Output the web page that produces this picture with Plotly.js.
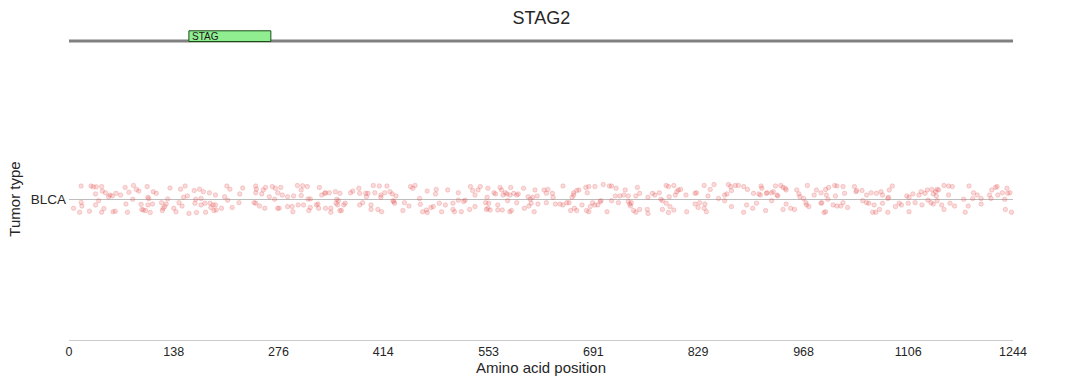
<!DOCTYPE html>
<html>
<head>
<meta charset="utf-8">
<script src="https://cdn.plot.ly/plotly-3.0.1.min.js"></script>
<style>html,body{margin:0;padding:0;background:#fff;}#chart{width:1086px;height:385px;}</style>
</head>
<body>
<div id="chart"></div>
<script>
// Gene and domain
const geneName = "STAG2";
const geneLength = 1244;
const domainNames = ["STAG"];
const domainStarts = [158];
const domainEnds = [266];

// Tumor type categories
const tumorTypes = ["BLCA"];

// Tick labels on x axis
const xTickVals = [0, 138, 276, 414, 553, 691, 829, 968, 1106, 1244];
const xTickText = ["0", "138", "276", "414", "553", "691", "829", "968", "1106", "1244"];

// Mutation positions (amino acid) and vertical jitter around the BLCA row
const posA = [16,29,32,36,43,44,35,48,54,52,57,62,68,74,79,85,89,92,103,104,105,111,115,133,147,153,165,172,151,156,167,174,16,17,6,14,27,35,39,43,46,58,61,75,77,84,95,96,98,101,104,107,110,122,124,126,123,128,130,138,141,145,149,158,166,168,174];
const jitA = [.046,.046,.043,.043,.044,.028,.018,.022,.014,.008,.011,.020,.014,.041,.024,.048,.034,.028,.044,.006,.001,.026,.020,.039,.035,.046,.030,.035,.006,.011,-.001,.002,-.012,-.025,-.033,-.047,-.043,-.021,-.006,-.047,-.034,-.045,-.043,-.018,-.047,-.001,-.019,-.037,-.039,-.041,-.021,-.048,-.018,-.013,-.033,-.027,-.041,-.018,0,-.033,-.045,-.013,-.025,-.051,-.015,-.048,-.021];

const posB = [177,185,193,208,212,229,225,205,209,246,247,246,256,254,259,268,272,279,275,281,264,271,288,296,301,308,314,306,306,315,318,330,333,337,338,343,351,353,179,186,190,193,187,180,191,194,201,215,224,244,246,251,258,275,277,288,294,295,302,309,316,318,326,329,328,338,345,345,352];
const jitB = [.026,.022,.014,.046,.035,.039,.018,.008,-.004,.046,.035,.022,.032,.018,.041,.044,.038,.041,.022,.014,.008,-.001,.008,.011,.048,.047,.044,.032,.012,0,0,.041,.014,.020,.022,.022,.026,-.001,-.015,-.015,-.021,-.021,-.030,-.047,-.041,-.039,-.033,-.030,-.013,-.013,-.015,-.025,-.033,-.033,-.033,-.027,-.027,-.045,-.021,-.021,-.041,-.030,-.021,-.033,-.018,-.033,-.033,-.047,-.015];

const posC = [357,371,374,382,383,391,392,394,401,403,409,411,411,416,419,423,426,431,427,429,428,450,456,453,462,472,483,484,499,506,513,513,522,529,532,355,354,362,364,357,359,383,387,398,398,407,412,440,442,448,463,466,471,472,477,480,488,491,496,506,508,517,520,528];
const jitC = [.020,.022,.028,.038,.020,.020,.008,.020,.048,.022,.046,.014,.006,.022,.046,.026,.018,.011,-.006,-.015,-.009,.044,.048,.038,.002,.028,.018,.034,.032,-.015,.022,-.004,-.004,.044,.030,-.006,-.021,-.021,-.015,-.041,-.041,-.021,-.013,-.021,-.037,-.037,-.045,-.041,-.013,-.025,-.019,-.045,-.039,-.048,-.030,-.027,-.015,-.045,-.021,-.037,-.045,-.045,-.009,-.037];

const posD = [542,539,535,552,551,560,562,568,570,572,575,577,581,582,586,590,592,599,605,608,611,614,617,626,629,631,637,638,651,665,665,663,669,672,681,683,685,693,704,712,535,549,553,552,550,555,565,565,571,578,583,581,590,600,606,609,613,618,629,641,647,651,656,659,661,666,669,676,682,685,687,690,693,697,700,701,709];
const jitD = [.044,.032,.014,.038,.006,.022,.018,.041,.032,.014,.022,.018,.014,.041,.020,.014,.018,.038,.008,-.001,.006,.032,.011,.032,.020,.034,.020,.006,.046,.022,.014,.006,.030,.032,.041,.022,.044,.044,.051,.046,-.027,-.013,-.015,-.033,-.037,-.039,-.021,-.039,-.039,-.006,-.041,-.045,-.013,-.033,-.025,-.015,-.045,-.018,-.013,-.018,-.018,-.021,-.013,-.013,-.041,-.033,-.041,-.021,-.041,-.045,-.027,-.013,-.021,-.021,-.009,-.006,-.045];

const posE = [715,721,720,726,733,731,737,749,752,747,763,769,772,778,780,782,787,790,797,801,803,806,799,791,813,825,827,837,845,842,850,856,864,867,869,872,873,878,882,889,715,724,737,739,740,741,744,747,752,762,763,782,787,790,792,797,814,825,829,831,837,838,840,864,873,889];
const jitE = [.046,.038,.011,.011,.032,.014,.011,.041,.020,.011,.006,.020,.014,.022,-.001,-.006,.048,.044,.048,.026,.032,.034,.014,.008,.014,.020,.022,.048,.034,.011,.051,.002,.014,.018,.051,.044,.030,.048,.048,.044,-.006,-.013,-.009,-.018,-.025,-.013,-.041,-.047,-.037,-.037,-.051,-.037,-.015,-.048,-.027,-.039,-.045,-.018,-.030,-.013,-.033,-.018,-.045,-.006,-.027,-.047];

const posF = [894,902,912,913,909,911,919,920,926,928,933,934,931,938,941,944,945,959,962,963,968,973,982,985,991,997,998,1001,1000,1009,1012,1010,1020,1022,1035,1038,1037,1045,1051,1057,1064,1070,893,901,906,918,926,941,945,951,956,971,972,975,991,992,995,997,1007,1012,1017,1020,1026,1046,1051,1054,1061,1059,1063,1068];
const jitF = [.034,.020,.046,.038,.018,.014,.020,.022,.022,.026,.014,.011,.046,.048,.041,.038,.032,.032,.018,.008,.002,.048,.014,.032,.022,.034,.014,.041,-.001,.048,.046,.011,.044,.020,.044,.030,.026,.030,.014,.022,.020,.026,-.021,-.033,-.015,-.041,-.006,-.037,-.018,-.033,-.037,-.013,-.021,-.027,-.015,-.013,-.048,-.045,-.021,-.025,-.025,-.013,-.030,-.006,-.013,-.015,-.021,-.047,-.047,-.037];

const posG = [1072,1081,1085,1080,1079,1094,1097,1104,1107,1112,1120,1123,1128,1131,1137,1139,1142,1144,1146,1143,1153,1159,1164,1159,1132,1186,1192,1197,1191,1202,1213,1216,1221,1223,1224,1215,1230,1236,1237,1240,1233,1072,1079,1089,1106,1107,1115,1124,1136,1139,1144,1150,1153,1161,1167,1179,1181,1185,1202,1234,1242];
const jitG = [.014,.032,.046,.006,.002,-.015,-.021,.011,.006,.018,.014,.026,.020,.032,.034,.018,.026,.034,.032,.011,.048,.046,.044,.014,-.004,.046,.022,.014,.002,.002,.014,.032,.041,.044,.014,.002,.022,.038,.020,.022,-.001,-.015,-.047,-.027,-.015,-.045,-.013,-.021,-.013,-.018,-.006,-.021,-.037,-.015,-.025,-.001,-.047,-.025,-.018,-.037,-.047];

const positions = [].concat(posA, posB, posC, posD, posE, posF, posG);
const jitters = [].concat(jitA, jitB, jitC, jitD, jitE, jitF, jitG);

const FONT = '"Liberation Sans", Arial, sans-serif';
const TXT = '#262626';

const trace = {
  type: 'scatter',
  mode: 'markers',
  x: positions,
  y: jitters,
  marker: {
    size: 4.5,
    color: 'rgba(228,80,80,0.22)',
    line: {color: 'rgba(228,80,80,0.22)', width: 1}
  },
  hoverinfo: 'x',
  showlegend: false,
  cliponaxis: false
};

const shapes = [
  // gene backbone
  {type: 'line', xref: 'x', yref: 'paper', x0: 0, x1: geneLength, y0: 1.0603, y1: 1.0603,
   line: {color: '#808080', width: 3}, layer: 'below'}
];
const annotations = [];
domainNames.forEach((name, i) => {
  shapes.push({type: 'rect', xref: 'x', yref: 'paper', x0: domainStarts[i], x1: domainEnds[i],
    y0: 1.0585, y1: 1.0965, fillcolor: '#90EE90', line: {color: '#1a4d1a', width: 1}});
  annotations.push({xref: 'x', yref: 'paper', x: domainStarts[i] + 1, y: 1.0775, text: name,
    showarrow: false, xanchor: 'left', yanchor: 'middle', font: {family: FONT, size: 10, color: '#1a1a1a'}});
});

const layout = {
  width: 1086, height: 385,
  margin: {l: 69, r: 73, t: 58, b: 45},
  paper_bgcolor: '#ffffff',
  plot_bgcolor: '#ffffff',
  font: {family: FONT, color: TXT},
  title: {text: geneName, x: 0.4985, xanchor: 'center', y: 0.953, yanchor: 'middle',
          font: {family: FONT, size: 18, color: TXT}},
  xaxis: {
    range: [0, geneLength],
    tickvals: xTickVals, ticktext: xTickText,
    showgrid: false, zeroline: false,
    showline: true, linecolor: '#cccccc', linewidth: 1,
    ticks: '', ticklen: 0,
    tickfont: {family: FONT, size: 12.5, color: TXT},
    title: {text: 'Amino acid position', font: {family: FONT, size: 15, color: TXT}, standoff: 3},
    automargin: false
  },
  yaxis: {
    range: [-0.5, 0.5],
    tickvals: [0], ticktext: tumorTypes,
    showgrid: true, gridcolor: '#bdbdbd', gridwidth: 1,
    zeroline: false, showline: false, ticks: '',
    tickfont: {family: FONT, size: 13.5, color: TXT},
    ticklabelstandoff: 2,
    title: {text: 'Tumor type', font: {family: FONT, size: 15, color: TXT}, standoff: 6},
    automargin: false
  },
  shapes: shapes,
  annotations: annotations
};

Plotly.newPlot('chart', [trace], layout, {displayModeBar: false, staticPlot: true});
</script>
</body>
</html>
